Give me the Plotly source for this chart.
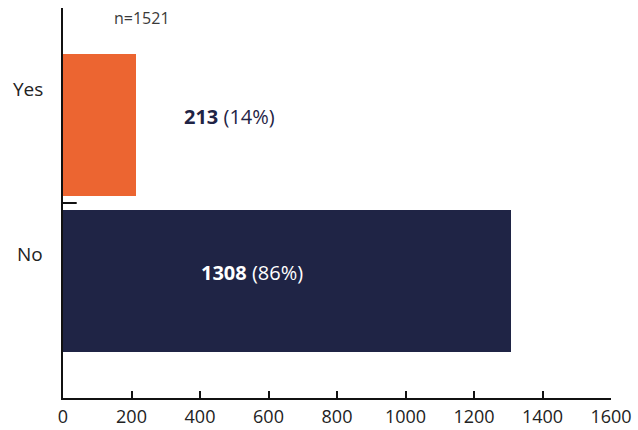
import plotly.graph_objects as go

categories = ["Yes", "No"]
counts = [213, 1308]
percents = ["14%", "86%"]
colors = ["#EC6531", "#1F2445"]
total_label = "n=1521"
x_ticks = [0, 200, 400, 600, 800, 1000, 1200, 1400, 1600]

FONT = "'Open Sans', Lato, sans-serif"

fig = go.Figure()
fig.add_trace(go.Bar(
    y=categories, x=counts, orientation="h",
    marker=dict(color=colors, line=dict(width=0)),
    width=0.905, hoverinfo="skip", showlegend=False,
))

# value labels
label_x = [487, 552]
label_colors = ["#1F2445", "#FFFFFF"]
for cat, c, p, lx, lc in zip(categories, counts, percents, label_x, label_colors):
    fig.add_annotation(
        x=lx, y=cat, xref="x", yref="y", yshift=9,
        text=f"<b>{c}</b> ({p})", showarrow=False,
        font=dict(family=FONT, size=20, color=lc),
        xanchor="center", yanchor="middle",
    )

# category labels (offset above bar centres as in reference)
for cat, ys in zip(categories, [36, 27]):
    fig.add_annotation(
        x=0, y=cat, xref="paper", yref="y", yshift=ys, xshift=-18,
        text=cat, showarrow=False,
        font=dict(family=FONT, size=19, color="#222222"),
        xanchor="right", yanchor="middle",
    )

fig.add_annotation(
    x=231, y=1, xref="x", yref="paper", yshift=-10,
    text=total_label, showarrow=False,
    font=dict(family=FONT, size=16, color="#3a3a3a"),
    xanchor="center", yanchor="middle",
)

# tick between categories
fig.add_shape(type="line", xref="paper", yref="y", x0=0, x1=0.025, y0=0.5, y1=0.5,
              line=dict(color="#111111", width=2))

fig.update_layout(
    width=638, height=430,
    margin=dict(l=63, r=27, t=8, b=32, autoexpand=False),
    paper_bgcolor="white", plot_bgcolor="white",
    font=dict(family=FONT, color="#222222"),
    bargap=0,
)
fig.update_xaxes(
    range=[0, 1600], tickvals=x_ticks, ticks="inside", ticklen=7, tickwidth=2,
    tickcolor="#111111", showline=True, linecolor="#111111", linewidth=2,
    showgrid=False, zeroline=False, tickfont=dict(size=18, color="#222222"),
    ticklabelstandoff=1, automargin=False,
)
fig.update_yaxes(
    categoryorder="array", categoryarray=["No", "Yes"], range=[-0.75, 1.75],
    showticklabels=False, ticks="", showline=True, linecolor="#111111", linewidth=2,
    showgrid=False, zeroline=False, automargin=False,
)

fig.write_html(
    "out.html",
    config={"displayModeBar": False},
    post_script="document.body.style.margin='0';document.body.style.overflow='hidden';",
)
